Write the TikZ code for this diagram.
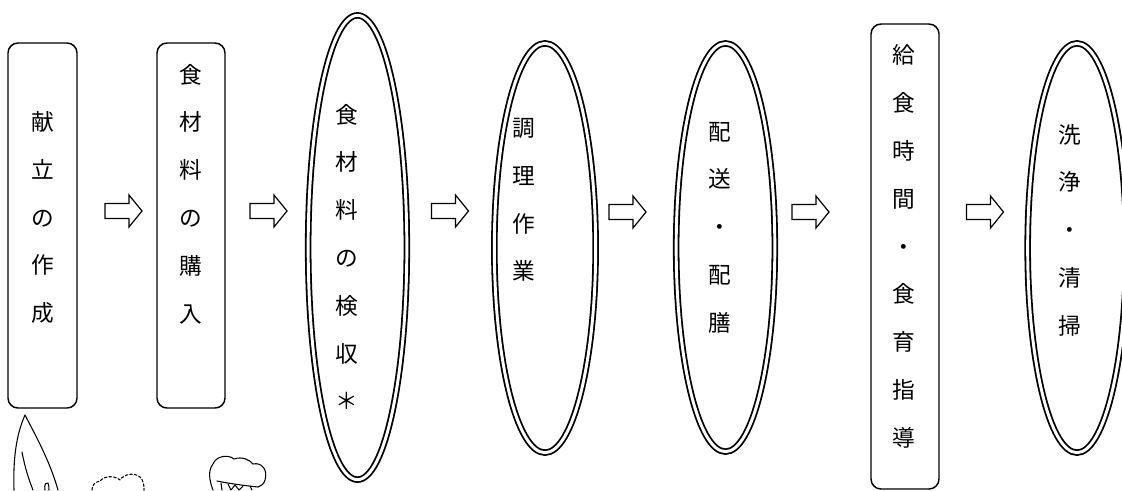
\documentclass[tikz,border=0pt]{standalone}
\usepackage{fontspec}
\newfontfamily\jp{Noto Sans CJK JP}
\usetikzlibrary{shapes.geometric}

\begin{document}
\begin{tikzpicture}[x=0.75pt,y=-0.75pt,
  procbox/.style={draw,line width=1.1pt,rounded corners=7.5pt,inner sep=0pt},
  procoval/.style={ellipse,draw,double,line width=1.35pt,double distance=2.2pt,inner sep=0pt},
  vtext/.style={align=center,inner sep=0pt,font=\jp\fontsize{17pt}{35.85pt}\selectfont},
  barrow/.pic={\draw[line width=0.9pt,line join=miter]
      (-18.5,-7.5) -- (5.5,-7.5) -- (5.5,-16) -- (18.5,0) -- (5.5,16) -- (5.5,7.5) -- (-18.5,7.5) -- cycle;},
  doodle/.style={line width=0.8pt,line cap=round,line join=round}]
\useasboundingbox (0,0) rectangle (1122,490);

% process boxes
\node[procbox,minimum width=51.75pt,minimum height=273.75pt] (menu) at (42.5,225.5) {};
\node[procbox,minimum width=51pt,minimum height=273.75pt] (buy) at (191,225.5) {};
\node[procbox,minimum width=51pt,minimum height=348.75pt] (lunch) at (905,256.5) {};

% process ovals
\node[procoval,minimum width=74pt,minimum height=348.2pt] (check) at (357.5,247.5) {};
\node[procoval,minimum width=76pt,minimum height=307pt] (cook) at (545,248) {};
\node[procoval,minimum width=74pt,minimum height=306.2pt] (serve) at (725.5,247.5) {};
\node[procoval,minimum width=74pt,minimum height=307pt] (wash) at (1077,248) {};

% vertical labels
\node[vtext] (menuT) at (42.5,217.5) {献\\立\\の\\作\\成};
\node[vtext] (buyT) at (191,194) {食\\材\\料\\の\\購\\入};
\node[vtext] (checkT) at (347,257) {食\\材\\料\\の\\検\\収\\＊};
\node[vtext] (cookT) at (524,200) {調\\理\\作\\業};
\node[vtext] (serveT) at (720,227.5) {配\\送\\・\\配\\膳};
\node[vtext] (lunchT) at (904,246.5) {給\\食\\時\\間\\・\\食\\育\\指\\導};
\node[vtext] (washT) at (1070,230) {洗\\浄\\・\\清\\掃};

% hollow arrows between the steps
\pic (ar1) at (123.5,211) {barrow};
\pic (ar2) at (268.5,211) {barrow};
\pic (ar3) at (450,211) {barrow};
\pic (ar4) at (627.5,212) {barrow};
\pic (ar5) at (810.5,212) {barrow};
\pic (ar6) at (985,212) {barrow};

% knife
\draw[doodle] (14,490) .. controls (13,460) and (16,435) .. (25,415)
   .. controls (38,440) and (50,462) .. (58,490);
\draw[doodle] (22,452) .. controls (25,468) and (29,480) .. (33,490);
\draw[doodle] (45,490) .. controls (44,484) and (46,482) .. (48,483) .. controls (49,485) and (49,488) .. (49,490);

% dashed cloud
\draw[doodle,dash pattern=on 2pt off 1.5pt] (92,490) .. controls (92,485) and (95,482) .. (100,481)
   .. controls (104,476) and (114,475) .. (120,480)
   .. controls (124,474) and (134,472) .. (140,477)
   .. controls (144,481) and (144,486) .. (144,490);

% chef hat
\draw[doodle] (213,490) .. controls (209,480) and (208,470) .. (213,464)
   .. controls (216,456) and (228,454) .. (234,459)
   .. controls (242,456) and (250,460) .. (253,464)
   .. controls (262,462) and (268,470) .. (265,480)
   .. controls (264,484) and (261,486) .. (258,487);
\draw[doodle] (217,481) .. controls (232,484) and (248,486) .. (258,487);
\draw[doodle] (221,483) -- (222,490);
\draw[doodle] (228,484) -- (231,490) -- (235,485) -- (239,490) -- (243,486);
\draw[doodle] (250,486) -- (252,490);
\end{tikzpicture}
\end{document}
